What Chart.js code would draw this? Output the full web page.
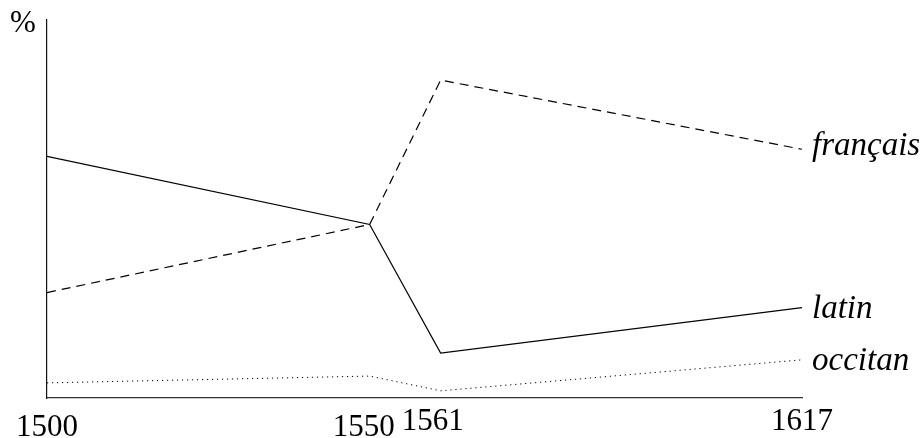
<!DOCTYPE html>
<html>
<head>
<meta charset="utf-8">
<script src="https://cdn.jsdelivr.net/npm/chart.js@4"></script>
<style>
  html, body { margin: 0; padding: 0; background: #fff; }
  #box { width: 923px; height: 438px; }
</style>
</head>
<body>
<div id="box"><canvas id="graphique"></canvas></div>
<script>
// années (axe x) et parts estimées (%) pour chaque langue
const annees = [1500, 1550, 1561, 1617];
const latin = [63.9, 45.9, 11.9, 23.9];
const francais = [27.9, 45.9, 84.1, 65.8];
const occitan = [4.0, 5.8, 1.9, 10.1];
const noms = ['français', 'latin', 'occitan'];

const points = vals => annees.map((a, i) => ({ x: a, y: vals[i] }));

// étiquettes : écriture des années et des noms de langue
const etiquettes = {
    id: 'etiquettes',
    afterDraw(chart) {
        const c = chart.ctx;
        const sx = chart.scales.x;
        const sy = chart.scales.y;
        c.save();
        c.fillStyle = '#000';

        // années sous l'axe (1500 et 1550 un peu plus bas)
        c.font = '31px "Liberation Serif", serif';
        c.textAlign = 'center';
        c.textBaseline = 'alphabetic';
        const decalX = [0, -6, -8, 0];
        const base = [436, 436, 430, 430];
        annees.forEach((a, i) => {
            c.fillText(String(a), sx.getPixelForValue(a) + decalX[i], base[i]);
        });

        // signe % en haut de l'axe y
        c.textAlign = 'center';
        c.fillText('%', sx.left - 24, sy.top + 12);

        // noms en fin de ligne
        c.font = 'italic 33px "Liberation Serif", serif';
        c.textAlign = 'left';
        const dy = [6, 10, 10];
        chart.data.datasets.forEach((ds, i) => {
            const dernier = ds.data[ds.data.length - 1];
            const px = sx.getPixelForValue(dernier.x) + 10;
            const py = sy.getPixelForValue(dernier.y) + dy[i];
            c.fillText(noms[i], px, py);
        });
        c.restore();
    }
};

const ctx = document.getElementById('graphique').getContext('2d');

new Chart(ctx, {
    type: 'line',
    data: {
        datasets: [
            {
                label: noms[0],
                data: points(francais),
                borderColor: '#000',
                borderWidth: 1.2,
                borderDash: [9, 6],
                pointRadius: 0,
                tension: 0
            },
            {
                label: noms[1],
                data: points(latin),
                borderColor: '#000',
                borderWidth: 1.2,
                pointRadius: 0,
                tension: 0
            },
            {
                label: noms[2],
                data: points(occitan),
                borderColor: '#000',
                borderWidth: 1,
                borderDash: [1.2, 3.8],
                pointRadius: 0,
                tension: 0
            }
        ]
    },
    options: {
        responsive: true,
        maintainAspectRatio: false,
        animation: false,
        layout: {
            padding: { left: 39, right: 121, top: 20, bottom: 32 }
        },
        scales: {
            x: {
                type: 'linear',
                min: 1500,
                max: 1617,
                ticks: { display: false },
                grid: { display: false },
                border: { display: true, color: '#333', width: 1.3 }
            },
            y: {
                min: 0,
                max: 100,
                ticks: { display: false },
                grid: { display: false },
                border: { display: true, color: '#111', width: 1.2 }
            }
        },
        plugins: {
            legend: { display: false },
            tooltip: { enabled: false }
        }
    },
    plugins: [etiquettes]
});
</script>
</body>
</html>
